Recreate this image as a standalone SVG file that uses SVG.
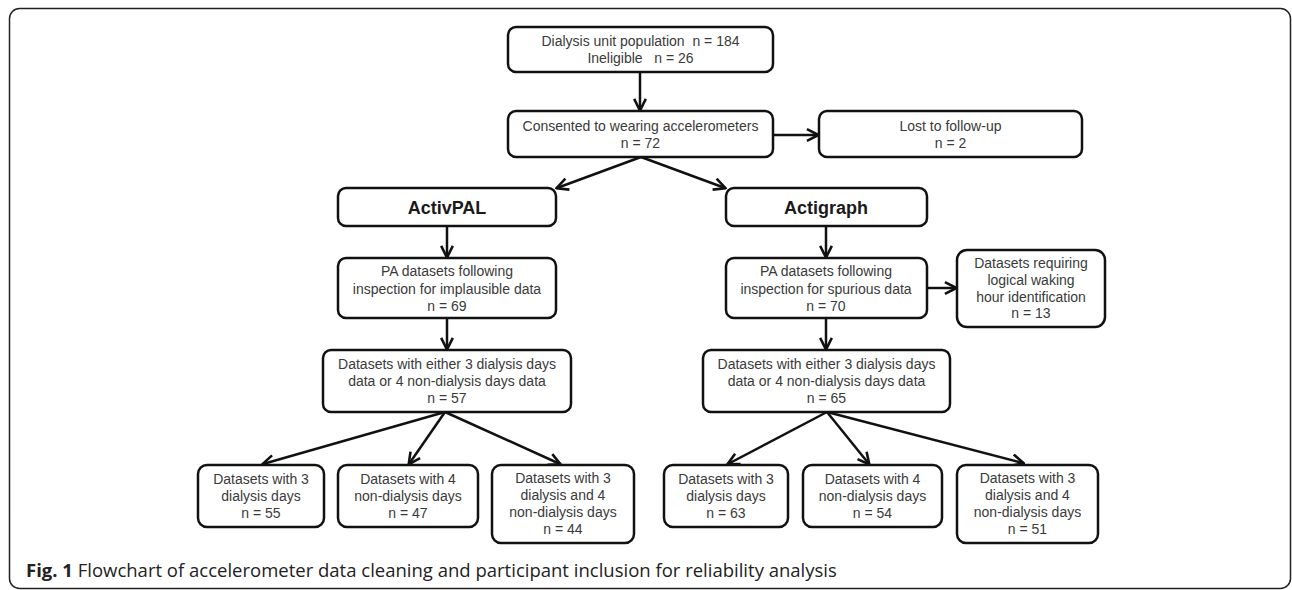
<svg xmlns="http://www.w3.org/2000/svg" width="1292" height="590" viewBox="0 0 1292 590">
<defs>
<style>
.box{fill:#fff;stroke:#111;stroke-width:2.5}
.t{font-family:"Liberation Sans",Arial,sans-serif;font-size:14px;fill:#3a3a3a;text-anchor:middle;white-space:pre}
.b{font-family:"Liberation Sans",Arial,sans-serif;font-size:18px;font-weight:bold;fill:#1a1a1a;text-anchor:middle}
.c{fill:none;stroke:#111;stroke-width:2.5}
.cap{font-family:"Open Sans","Noto Sans",sans-serif;font-size:18.5px;fill:#222}
</style>
<marker id="ah" markerUnits="userSpaceOnUse" markerWidth="14" markerHeight="14" viewBox="-1 -1 12 12" refX="9.5" refY="5" orient="auto">
<path d="M0,0 L10,5 L0,10" fill="none" stroke="#111" stroke-width="2.2"/>
</marker>
</defs>
<rect width="1292" height="590" fill="#fff"/>
<rect id="frame" x="9.5" y="8.5" width="1281" height="580" rx="10" fill="none" stroke="#222" stroke-width="1.5"/>

<g id="connectors">
<line class="c" x1="640" y1="72" x2="640" y2="110" marker-end="url(#ah)"/>
<line class="c" x1="773" y1="135" x2="818" y2="135" marker-end="url(#ah)"/>
<line class="c" x1="641" y1="157" x2="557" y2="188" marker-end="url(#ah)"/>
<line class="c" x1="641" y1="157" x2="725" y2="188" marker-end="url(#ah)"/>
<line class="c" x1="447" y1="226" x2="447" y2="257" marker-end="url(#ah)"/>
<line class="c" x1="826" y1="226" x2="826" y2="257" marker-end="url(#ah)"/>
<line class="c" x1="927" y1="288" x2="956" y2="288" marker-end="url(#ah)"/>
<line class="c" x1="447" y1="318" x2="447" y2="349" marker-end="url(#ah)"/>
<line class="c" x1="826" y1="318" x2="826" y2="349" marker-end="url(#ah)"/>
<line class="c" x1="445" y1="412" x2="263" y2="464" marker-end="url(#ah)"/>
<line class="c" x1="445" y1="412" x2="409" y2="464" marker-end="url(#ah)"/>
<line class="c" x1="445" y1="412" x2="560" y2="464" marker-end="url(#ah)"/>
<line class="c" x1="827" y1="412" x2="728" y2="464" marker-end="url(#ah)"/>
<line class="c" x1="827" y1="412" x2="869" y2="464" marker-end="url(#ah)"/>
<line class="c" x1="827" y1="412" x2="1023" y2="463" marker-end="url(#ah)"/>
</g>

<g id="n-population">
<rect class="box" x="508" y="27" width="265" height="45" rx="8"/>
<text class="t" x="640.5" y="46" xml:space="preserve">Dialysis unit population  n = 184</text>
<text class="t" x="640.5" y="63" xml:space="preserve">Ineligible   n = 26</text>
</g>
<g id="n-consented">
<rect class="box" x="508" y="111" width="265" height="46" rx="8"/>
<text class="t" x="640.5" y="131">Consented to wearing accelerometers</text>
<text class="t" x="640.5" y="148">n = 72</text>
</g>
<g id="n-lost">
<rect class="box" x="819" y="111" width="263" height="46" rx="8"/>
<text class="t" x="950.5" y="131">Lost to follow-up</text>
<text class="t" x="950.5" y="148">n = 2</text>
</g>
<g id="n-activpal">
<rect class="box" x="338" y="188" width="218" height="38" rx="8"/>
<text class="b" x="447" y="213.5">ActivPAL</text>
</g>
<g id="n-actigraph">
<rect class="box" x="726" y="188" width="201" height="38" rx="8"/>
<text class="b" x="826" y="213.5">Actigraph</text>
</g>
<g id="n-pa-left">
<rect class="box" x="338" y="258" width="218" height="60" rx="8"/>
<text class="t" x="447" y="276">PA datasets following</text>
<text class="t" x="447" y="294">inspection for implausible data</text>
<text class="t" x="447" y="311">n = 69</text>
</g>
<g id="n-pa-right">
<rect class="box" x="726" y="258" width="201" height="60" rx="8"/>
<text class="t" x="826" y="276">PA datasets following</text>
<text class="t" x="826" y="294">inspection for spurious data</text>
<text class="t" x="826" y="311">n = 70</text>
</g>
<g id="n-requiring">
<rect class="box" x="957" y="250" width="148" height="77" rx="10"/>
<text class="t" x="1031" y="268">Datasets requiring</text>
<text class="t" x="1031" y="285">logical waking</text>
<text class="t" x="1031" y="302">hour identification</text>
<text class="t" x="1031" y="318">n = 13</text>
</g>
<g id="n-either-left">
<rect class="box" x="323" y="350" width="248" height="62" rx="8"/>
<text class="t" x="447" y="369">Datasets with either 3 dialysis days</text>
<text class="t" x="447" y="386">data or 4 non-dialysis days data</text>
<text class="t" x="447" y="403">n = 57</text>
</g>
<g id="n-either-right">
<rect class="box" x="703" y="350" width="247" height="62" rx="8"/>
<text class="t" x="826.5" y="369">Datasets with either 3 dialysis days</text>
<text class="t" x="826.5" y="386">data or 4 non-dialysis days data</text>
<text class="t" x="826.5" y="403">n = 65</text>
</g>
<g id="n-l1">
<rect class="box" x="198" y="465" width="126" height="62" rx="9"/>
<text class="t" x="261" y="484">Datasets with 3</text>
<text class="t" x="261" y="501">dialysis days</text>
<text class="t" x="261" y="518">n = 55</text>
</g>
<g id="n-l2">
<rect class="box" x="338" y="465" width="140" height="62" rx="9"/>
<text class="t" x="408" y="484">Datasets with 4</text>
<text class="t" x="408" y="501">non-dialysis days</text>
<text class="t" x="408" y="518">n = 47</text>
</g>
<g id="n-l3">
<rect class="box" x="492" y="465" width="142" height="78" rx="9"/>
<text class="t" x="563" y="483">Datasets with 3</text>
<text class="t" x="563" y="500">dialysis and 4</text>
<text class="t" x="563" y="517">non-dialysis days</text>
<text class="t" x="563" y="534">n = 44</text>
</g>
<g id="n-r1">
<rect class="box" x="664" y="465" width="124" height="62" rx="9"/>
<text class="t" x="726" y="484">Datasets with 3</text>
<text class="t" x="726" y="501">dialysis days</text>
<text class="t" x="726" y="518">n = 63</text>
</g>
<g id="n-r2">
<rect class="box" x="803" y="465" width="139" height="62" rx="9"/>
<text class="t" x="872.5" y="484">Datasets with 4</text>
<text class="t" x="872.5" y="501">non-dialysis days</text>
<text class="t" x="872.5" y="518">n = 54</text>
</g>
<g id="n-r3">
<rect class="box" x="957" y="465" width="141" height="78" rx="9"/>
<text class="t" x="1027.5" y="483">Datasets with 3</text>
<text class="t" x="1027.5" y="500">dialysis and 4</text>
<text class="t" x="1027.5" y="517">non-dialysis days</text>
<text class="t" x="1027.5" y="534">n = 51</text>
</g>

<text id="caption" class="cap" x="26" y="577"><tspan font-weight="bold">Fig. 1</tspan> Flowchart of accelerometer data cleaning and participant inclusion for reliability analysis</text>
</svg>
